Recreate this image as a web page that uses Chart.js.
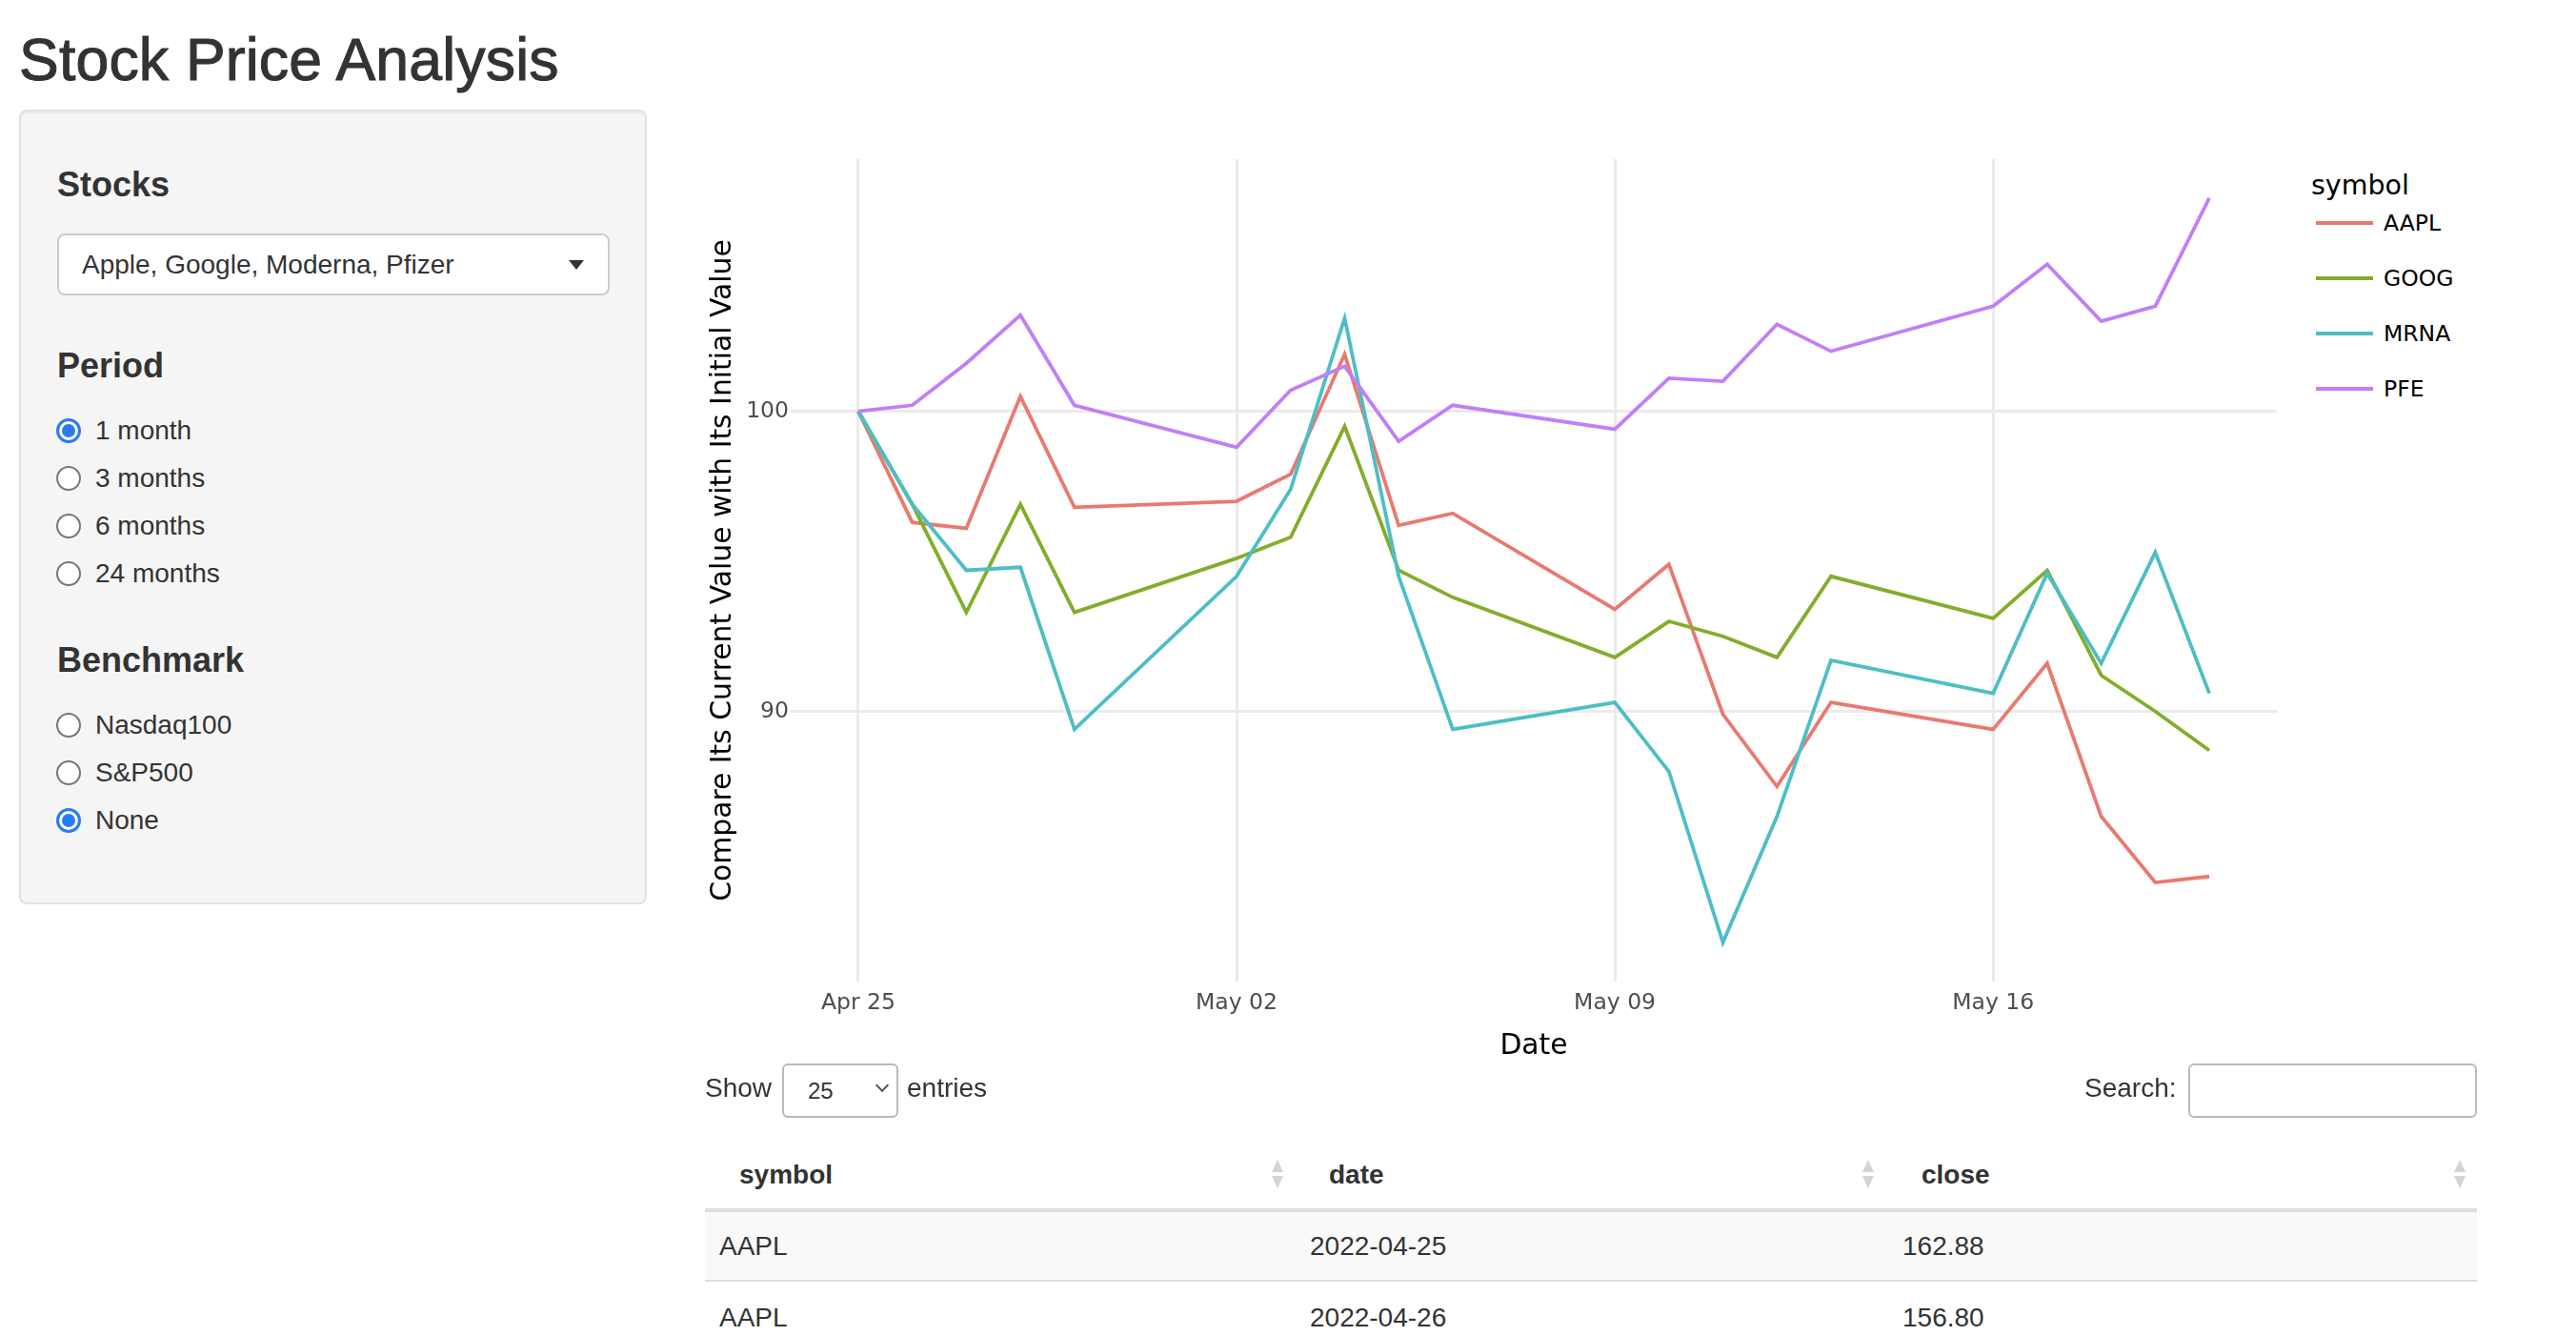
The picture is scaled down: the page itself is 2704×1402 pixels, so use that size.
<!DOCTYPE html>
<html>
<head>
<meta charset="utf-8">
<title>Stock Price Analysis</title>
<script src="https://cdn.jsdelivr.net/npm/chart.js@4.4.1/dist/chart.umd.min.js"></script>
<style>
html,body{margin:0;padding:0;width:2704px;height:1402px;overflow:hidden;background:#fff;
  font-family:"Liberation Sans",Arial,Helvetica,sans-serif;color:#333;}
.a{position:absolute;white-space:nowrap;}
#title{left:20px;top:31px;font-size:62.5px;line-height:62px;-webkit-text-stroke:1.1px #333;letter-spacing:0.2px;}
#panel{left:20px;top:115px;width:659px;height:834px;box-sizing:border-box;background:#f5f5f5;
  border:2px solid #e3e3e3;border-radius:8px;box-shadow:inset 0 2px 2px rgba(0,0,0,.05);}
.lbl{font-size:36px;line-height:36px;font-weight:bold;left:60px;}
.txt{font-size:28px;line-height:28px;}
#sel{left:60px;top:245px;width:580px;height:65px;box-sizing:border-box;background:#fff;border:2px solid #ccc;border-radius:8px;}
#caret{left:597px;top:273px;width:0;height:0;border-left:8px solid transparent;border-right:8px solid transparent;border-top:10px solid #333;}
.radio{width:26px;height:26px;box-sizing:border-box;border-radius:50%;background:#fff;border:2px solid #767676;left:59px;}
.radio.on{border:3px solid #2a7af3;}
.radio.on::after{content:"";position:absolute;left:3px;top:3px;width:14px;height:14px;border-radius:50%;background:#2a7af3;}
.rtxt{left:100px;font-size:28px;line-height:28px;}
#chartBox{left:700px;top:140px;width:1690px;height:1000px;}
.legTitle{font-family:"DejaVu Sans",sans-serif;font-size:28.5px;line-height:28.5px;color:#000;}
.legTxt{font-family:"DejaVu Sans",sans-serif;font-size:23.5px;line-height:23.5px;color:#000;}
.legLine{height:4px;width:60px;}
.box{box-sizing:border-box;background:#fff;border:2px solid #b9b9b9;border-radius:6px;}
.th{font-size:28px;line-height:28px;font-weight:bold;}
.sort{width:0;height:0;border-left:6px solid transparent;border-right:6px solid transparent;}
.sort.up{border-bottom:13px solid #d4d4d4;}
.sort.dn{border-top:13px solid #d4d4d4;}
</style>
</head>
<body>
<div class="a" id="title">Stock Price Analysis</div>
<div class="a" id="panel"></div>
<div class="a lbl" style="top:176px">Stocks</div>
<div class="a" id="sel"></div>
<div class="a txt" style="left:86px;top:264px">Apple, Google, Moderna, Pfizer</div>
<div class="a" id="caret"></div>
<div class="a lbl" style="top:366px">Period</div>
<div class="a lbl" style="top:675px">Benchmark</div>

<div class="a" id="chartBox"><canvas id="chart" width="1690" height="1000"></canvas></div>

<div class="a txt" style="left:740px;top:1128px">Show</div>
<div class="a box" style="left:821px;top:1116px;width:122px;height:57px"></div>
<div class="a" style="left:848px;top:1133px;font-size:24px;line-height:24px">25</div>
<div class="a" style="left:921px;top:1134px;width:8px;height:8px;border-right:2px solid #555;border-bottom:2px solid #555;transform:rotate(45deg)"></div>
<div class="a txt" style="left:952px;top:1128px">entries</div>
<div class="a txt" style="left:2188px;top:1128px">Search:</div>
<div class="a box" style="left:2297px;top:1116px;width:303px;height:57px"></div>

<script>
// ---------- data ----------
const dates = ['2022-04-25','2022-04-26','2022-04-27','2022-04-28','2022-04-29',
               '2022-05-02','2022-05-03','2022-05-04','2022-05-05','2022-05-06',
               '2022-05-09','2022-05-10','2022-05-11','2022-05-12','2022-05-13',
               '2022-05-16','2022-05-17','2022-05-18','2022-05-19','2022-05-20'];
const symbols = ['AAPL','GOOG','MRNA','PFE'];
const aaplValues = [100,96.3,96.1,100.5,96.8, 97.0,97.9,101.9,96.2,96.6, 93.4,94.9,89.9,87.5,90.3, 89.4,91.6,86.5,84.3,84.5];
const googValues = [100,96.9,93.3,96.9,93.3, 95.1,95.8,99.5,94.7,93.8, 91.8,93.0,92.5,91.8,94.5, 93.1,94.7,91.2,90.0,88.7];
const mrnaValues = [100,96.9,94.7,94.8,89.4, 94.5,97.4,103.1,94.5,89.4, 90.3,88.0,82.3,86.5,91.7, 90.6,94.6,91.6,95.3,90.6];
const pfeValues  = [100,100.2,101.6,103.2,100.2, 98.8,100.7,101.5,99.0,100.2, 99.4,101.1,101.0,102.9,102.0, 103.5,104.9,103.0,103.5,107.1];
const seriesValues = [aaplValues, googValues, mrnaValues, pfeValues];
const seriesColors = ['#E9796F','#83AD2A','#4DBEC5','#C17FF7'];

const xTickDates = ['2022-04-25','2022-05-02','2022-05-09','2022-05-16'];
const xTickLabels = ['Apr 25','May 02','May 09','May 16'];
const yTicks = [90, 100];
const xRangeDays = [-1.25, 26.25];
const yRange = [81.0, 108.4];

const periodOptions = ['1 month','3 months','6 months','24 months'];
const periodSelected = '1 month';
const benchOptions = ['Nasdaq100','S&P500','None'];
const benchSelected = 'None';

const tableHeaders = ['symbol','date','close'];
const tableSymbols = ['AAPL','AAPL'];
const tableDates = ['2022-04-25','2022-04-26'];
const tableClose = ['162.88','156.80'];

// ---------- helpers ----------
const origin = Date.UTC(2022,3,25);
const dayOf = d => (Date.UTC(+d.slice(0,4), +d.slice(5,7)-1, +d.slice(8,10)) - origin) / 864e5;
const xTickDays = xTickDates.map(dayOf);

function el(cls, style, text){
  const d = document.createElement('div');
  d.className = 'a ' + cls;
  d.setAttribute('style', style);
  if (text !== undefined) d.textContent = text;
  document.body.appendChild(d);
  return d;
}

// radios
function radios(opts, sel, centers){
  opts.forEach((o,i)=>{
    el('radio' + (o===sel?' on':''), 'top:' + (centers[i]-13) + 'px');
    el('rtxt', 'top:' + (centers[i]-14) + 'px', o);
  });
}
radios(periodOptions, periodSelected, [452,502,552,602]);
radios(benchOptions, benchSelected, [761,811,861]);

// ---------- chart ----------
const tickFont = {family:'DejaVu Sans', size:23.5};
const titleFont = {family:'DejaVu Sans', size:29.8};
new Chart(document.getElementById('chart'), {
  type:'line',
  data:{
    datasets: symbols.map((s,i)=>({
      label:s,
      data: dates.map((d,j)=>({x:dayOf(d), y:seriesValues[i][j]})),
      borderColor: seriesColors[i],
      backgroundColor: seriesColors[i],
      borderWidth:3.8, pointRadius:0, tension:0, fill:false,
      order: symbols.length - i
    }))
  },
  options:{
    responsive:false, animation:false, devicePixelRatio:1,
    layout:{padding:{top:27,left:0,right:0,bottom:0}},
    plugins:{legend:{display:false}, tooltip:{enabled:false}},
    scales:{
      x:{
        type:'linear', min:xRangeDays[0], max:xRangeDays[1],
        afterBuildTicks: s => { s.ticks = xTickDays.map(v=>({value:v})); },
        afterFit: s => { s.height = 110; },
        grid:{color:'#ebebeb', lineWidth:3, drawTicks:false},
        border:{display:false},
        ticks:{autoSkip:false, maxRotation:0, padding:8.5, color:'#4d4d4d', font:tickFont,
               callback: v => xTickLabels[xTickDays.indexOf(v)]},
        title:{display:true, text:'Date', color:'#000', font:titleFont, padding:{top:0,bottom:23.5}}
      },
      y:{
        type:'linear', min:yRange[0], max:yRange[1],
        afterBuildTicks: s => { s.ticks = yTicks.map(v=>({value:v})); },
        afterFit: s => { s.width = 130; },
        grid:{color:'#ebebeb', lineWidth:3, drawTicks:false},
        border:{display:false},
        ticks:{autoSkip:false, padding:2, color:'#4d4d4d', font:tickFont, callback: v => String(v)},
        title:{display:true, text:'Compare Its Current Value with Its Initial Value', color:'#000', font:titleFont, padding:{top:41.2,bottom:0}}
      }
    }
  }
});

// ---------- legend ----------
el('legTitle', 'left:2426px;top:181px', 'symbol');
const legY = [234,292,350,408];
symbols.forEach((s,i)=>{
  el('legLine', 'left:2431px;top:' + (legY[i]-2) + 'px;background:' + seriesColors[i]);
  el('legTxt', 'left:2502px;top:' + (legY[i]-11.5) + 'px', s);
});

// ---------- table ----------
const colText = [[776,755],[1395,1375],[2017,1997]];
const sortX = [1341,1961,2582];
tableHeaders.forEach((h,i)=>{
  el('th', 'left:' + colText[i][0] + 'px;top:1219px', h);
  el('sort up', 'left:' + (sortX[i]-6) + 'px;top:1217px');
  el('sort dn', 'left:' + (sortX[i]-6) + 'px;top:1234px');
});
el('', 'left:740px;top:1268px;width:1860px;height:4px;background:#dddddd');
el('', 'left:740px;top:1272px;width:1860px;height:71px;background:#f9f9f9');
el('', 'left:740px;top:1343px;width:1860px;height:2px;background:#dddddd');
el('', 'left:740px;top:1418px;width:1860px;height:2px;background:#dddddd');
const rowCenters = [1308,1383];
tableSymbols.forEach((s,r)=>{
  const cells = [s, tableDates[r], tableClose[r]];
  cells.forEach((c,i)=> el('txt', 'left:' + colText[i][1] + 'px;top:' + (rowCenters[r]-14) + 'px', c));
});
</script>
</body>
</html>
